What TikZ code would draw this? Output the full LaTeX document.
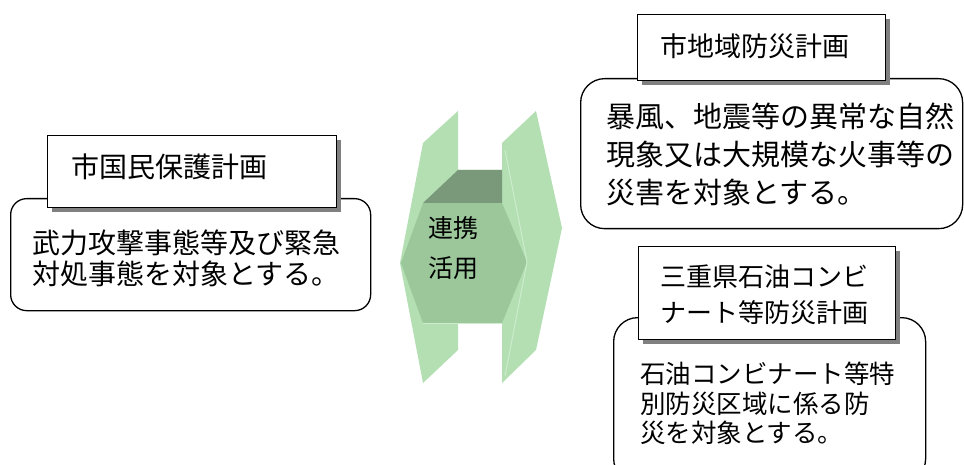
\documentclass[tikz,border=0pt]{standalone}
\usepackage{fontspec}
\newfontfamily\jp{Noto Sans CJK JP}
\usetikzlibrary{shadows}
\definecolor{gLight}{RGB}{179,223,179}
\definecolor{gFront}{RGB}{155,199,155}
\definecolor{gTop}{RGB}{122,152,122}
\definecolor{gHi}{RGB}{205,236,205}
\definecolor{shadowgray}{RGB}{128,128,128}
\tikzset{
  roundbox/.style={draw=black, fill=white, line width=1.3pt, rounded corners=22pt, anchor=north west, inner sep=0pt},
  titlebox/.style={draw=black, fill=white, line width=1.3pt, anchor=north west, inner sep=0pt,
    drop shadow={shadow xshift=4pt, shadow yshift=-4pt, fill=shadowgray, opacity=1}},
  txt/.style={anchor=base west, inner sep=0pt, font=\jp},
}
\begin{document}
\begin{tikzpicture}[x=1pt, y=-1pt]
\useasboundingbox (0,0) rectangle (964,465);

% ---------- left group ----------
\node[roundbox, rounded corners=16pt, minimum width=360pt, minimum height=112pt] (lb) at (10,198) {};
\node[titlebox, minimum width=289pt, minimum height=72pt] (lt) at (47,135) {};
\node[txt, font=\jp\fontsize{28}{28}\selectfont] (ltt) at (71,177.6) {市国民保護計画};
\node[txt, font=\jp\fontsize{28}{28}\selectfont] (lb1) at (32,253.6) {武力攻撃事態等及び緊急};
\node[txt, font=\jp\fontsize{28}{28}\selectfont] (lb2) at (32,284.6) {対処事態を対象とする。};

% ---------- middle shape ----------
\fill[gLight] (400,263) -- (423,143) -- (458,111) -- (458,170) -- (502,170) -- (502,143)
  -- (536,111) -- (562,228) -- (536,350) -- (502,383) -- (502,323) -- (458,323) -- (458,350)
  -- (423,383) -- cycle;
\fill[gFront] (423,203) -- (502,203) -- (527,262) -- (502,323) -- (423,323) -- (401,263) -- cycle;
\fill[gTop] (423,203) -- (458,170) -- (502,170) -- (502,203) -- cycle;
\draw[gHi, line width=1pt] (505,150) -- (527,262) -- (505,376);
\draw[gHi, line width=0.8pt] (423,323) -- (502,323);
\node[txt, font=\jp\fontsize{25}{25}\selectfont] (mid1) at (428,237.5) {連携};
\node[txt, font=\jp\fontsize{25}{25}\selectfont] (mid2) at (428,277.5) {活用};

% ---------- top right group ----------
\node[roundbox, rounded corners=24pt, minimum width=382pt, minimum height=150pt] (rb) at (580,78) {};
\node[titlebox, minimum width=248pt, minimum height=66pt] (rt) at (637,14) {};
\node[txt, font=\jp\fontsize{27}{27}\selectfont] (rtt) at (660,57) {市地域防災計画};
\node[txt, font=\jp\fontsize{29}{29}\selectfont] (rb1) at (606,128) {暴風、地震等の異常な自然};
\node[txt, font=\jp\fontsize{29}{29}\selectfont] (rb2) at (606,166) {現象又は大規模な火事等の};
\node[txt, font=\jp\fontsize{29}{29}\selectfont] (rb3) at (606,204) {災害を対象とする。};

% ---------- bottom right group ----------
\node[roundbox, rounded corners=24pt, minimum width=312pt, minimum height=165pt] (sb) at (613,317) {};
\node[titlebox, minimum width=257pt, minimum height=93pt] (st) at (638,246) {};
\node[txt, font=\jp\fontsize{26}{26}\selectfont] (st1) at (660,287) {三重県石油コンビ};
\node[txt, font=\jp\fontsize{26}{26}\selectfont] (st2) at (660,322) {ナート等防災計画};
\node[txt, font=\jp\fontsize{25.5}{25.5}\selectfont] (sb1) at (640,383) {石油コンビナート等特};
\node[txt, font=\jp\fontsize{25.5}{25.5}\selectfont] (sb2) at (640,413) {別防災区域に係る防};
\node[txt, font=\jp\fontsize{25.5}{25.5}\selectfont] (sb3) at (640,442) {災を対象とする。};
\end{tikzpicture}
\end{document}
